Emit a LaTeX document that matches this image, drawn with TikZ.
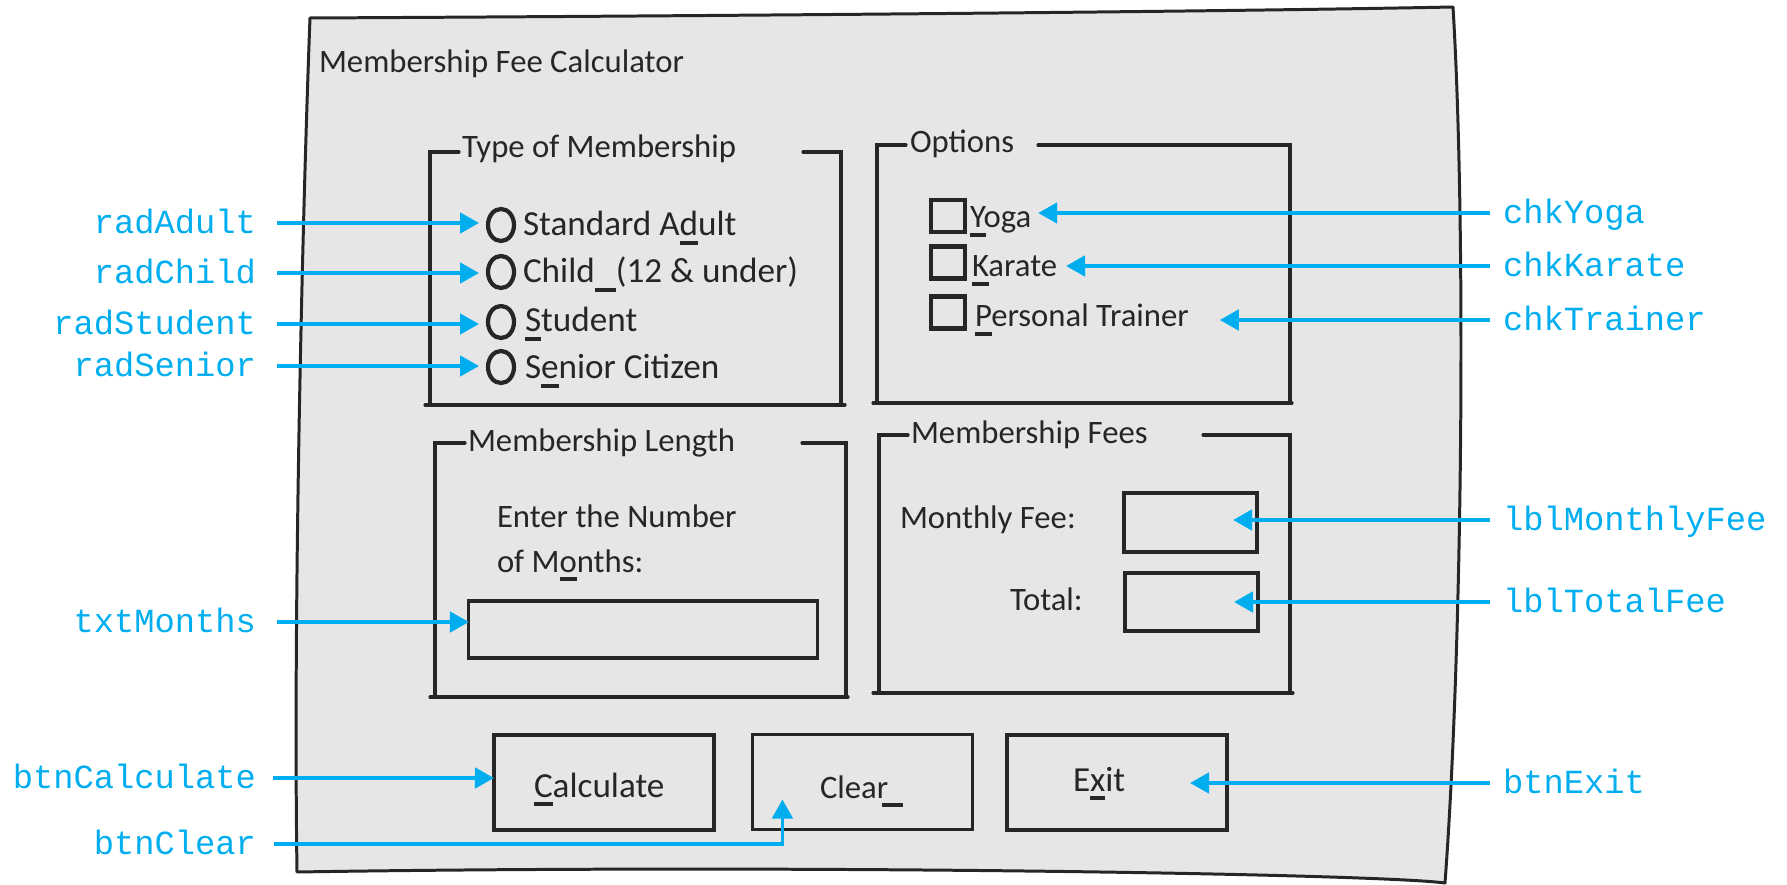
\documentclass[tikz,border=0pt]{standalone}
\usepackage{fontspec}
\setmainfont{Carlito}
\newfontfamily\labelfont{Liberation Mono}
\usetikzlibrary{arrows.meta, shapes.geometric}

\definecolor{callblue}{RGB}{0,174,239}
\definecolor{winfill}{RGB}{230,230,230}
\definecolor{ink}{RGB}{38,38,38}

% access key underline
\newcommand{\akey}[1]{\setbox0\hbox{#1}\rlap{\rule[-2.5pt]{\wd0}{1.1pt}}#1}

\begin{document}
\begin{tikzpicture}[
    x=0.01cm, y=-0.01cm,
    every node/.style={inner sep=0pt, outer sep=0pt},
    grpline/.style={draw=ink, line width=0.9pt, line cap=round},
    sketch/.style={font=\fontsize{9.3}{11}\selectfont, text=ink, anchor=base west},
    bigsketch/.style={sketch, font=\fontsize{10}{12}\selectfont},
    radio/.style={draw=ink, ellipse, line width=1.2pt, minimum width=0.26cm, minimum height=0.32cm},
    chkbox/.style={draw=ink, rectangle, line width=1.2pt, minimum width=0.34cm, minimum height=0.32cm},
    field/.style={draw=ink, rectangle, line width=0.9pt},
    button/.style={draw=ink, rectangle, line width=0.9pt, minimum width=2.2cm, minimum height=0.95cm},
    ctrl/.style={font=\labelfont\fontsize{9.6}{11}\selectfont, text=callblue, text height=6.2pt, text depth=0pt},
    callout/.style={draw=callblue, line width=1pt, -{Triangle[length=5.4pt, width=5.8pt]}}
]
\useasboundingbox (0,0) rectangle (1787,885);

% window
\filldraw[grpline, fill=winfill, line width=0.85pt, line join=round]
    (310,18) .. controls (700,16) and (1200,12) .. (1453,7)
    .. controls (1466,220) and (1463,640) .. (1445,883)
    .. controls (1380,874) and (800,864) .. (297,872)
    .. controls (293,600) and (303,200) .. cycle;
\node[sketch] (title) at (319,73) {Membership Fee Calculator};

% type of membership
\node[sketch] (grpType) at (462,158) {Type of Membership};
\draw[grpline] (459,152) -- (430,152) -- (430,405);
\draw[grpline] (803,152) -- (841,152) -- (841,405);
\draw[grpline] (425,405) -- (845,405);
\node[radio] (rAdult) at (501,225) {};
\node[radio] (rChild) at (501,272) {};
\node[radio] (rStudent) at (501,322) {};
\node[radio] (rSenior) at (501,367) {};
\node[bigsketch] (tAdult) at (523,236) {Standard A\akey{d}ult};
\node[bigsketch] (tChild) at (523,283) {Child\akey{\hspace{0.6em}}(12 \& under)};
\node[bigsketch] (tStudent) at (525,332) {\akey{S}tudent};
\node[bigsketch] (tSenior) at (525,379) {S\akey{e}nior Citizen};

% options
\node[sketch] (grpOptions) at (910,153) {Options};
\draw[grpline] (906,145) -- (877,145) -- (877,403);
\draw[grpline] (1038,145) -- (1290,145) -- (1290,403);
\draw[grpline] (873,403) -- (1292,403);
\node[chkbox] (cYoga) at (948,216) {};
\node[chkbox] (cKarate) at (948,262.5) {};
\node[chkbox] (cTrainer) at (948,312.5) {};
\node[sketch] (tYoga) at (970,228) {\akey{Y}oga};
\node[sketch] (tKarate) at (972,277) {\akey{K}arate};
\node[sketch] (tTrainer) at (975,327) {\akey{P}ersonal Trainer};

% membership length
\node[sketch] (grpLength) at (468,452) {Membership Length};
\draw[grpline] (465,443) -- (435,443) -- (435,697);
\draw[grpline] (802,443) -- (846,443) -- (846,697);
\draw[grpline] (430,697) -- (848,697);
\node[sketch] (tEnter) at (497,527) {Enter the Number};
\node[sketch] (tMonths) at (497,572) {of M\akey{o}nths:};
\node[field, minimum width=3.48cm, minimum height=0.57cm] (fMonths) at (643,629.5) {};

% membership fees
\node[sketch] (grpFees) at (911,443) {Membership Fees};
\draw[grpline] (908,435) -- (879,435) -- (879,693);
\draw[grpline] (1203,435) -- (1290,435) -- (1290,693);
\draw[grpline] (873,693) -- (1293,693);
\node[sketch] (tMonthly) at (900,528) {Monthly Fee:};
\node[sketch] (tTotal) at (1010,610) {Total:};
\node[field, minimum width=1.33cm, minimum height=0.59cm] (fMonthly) at (1190.5,522.5) {};
\node[field, minimum width=1.33cm, minimum height=0.58cm] (fTotal) at (1191.5,602) {};

% buttons
\node[button] (bCalc) at (604,782.5) {};
\node[button] (bClear) at (862.5,782) {};
\node[button] (bExit) at (1117,782.5) {};
\node[bigsketch] (tCalc) at (534,797) {\akey{C}alculate};
\node[sketch] (tClear) at (820,798) {Clear\hspace{-0.2em}\akey{\hspace{0.65em}}};
\node[bigsketch] (tExit) at (1073,791) {E\akey{x}it};

% control names
\node[ctrl, anchor=east] (radAdult) at (256,223) {radAdult};
\node[ctrl, anchor=east] (radChild) at (256,273) {radChild};
\node[ctrl, anchor=east] (radStudent) at (256,324) {radStudent};
\node[ctrl, anchor=east] (radSenior) at (256,366) {radSenior};
\node[ctrl, anchor=east] (txtMonths) at (256,622) {txtMonths};
\node[ctrl, anchor=east] (btnCalculate) at (256,778) {btnCalculate};
\node[ctrl, anchor=east] (btnClear) at (256,844) {btnClear};
\node[ctrl, anchor=west] (chkYoga) at (1503,213) {chkYoga};
\node[ctrl, anchor=west] (chkKarate) at (1503,266) {chkKarate};
\node[ctrl, anchor=west] (chkTrainer) at (1503,320) {chkTrainer};
\node[ctrl, anchor=west] (lblMonthlyFee) at (1503,520) {lblMonthlyFee};
\node[ctrl, anchor=west] (lblTotalFee) at (1503,602) {lblTotalFee};
\node[ctrl, anchor=west] (btnExit) at (1503,783) {btnExit};

% arrows
\draw[callout, shorten >=0.09cm] ([xshift=0.21cm]radAdult.east) -- (radAdult.east -| rAdult.west);
\draw[callout, shorten >=0.09cm] ([xshift=0.21cm]radChild.east) -- (radChild.east -| rChild.west);
\draw[callout, shorten >=0.09cm] ([xshift=0.21cm]radStudent.east) -- (radStudent.east -| rStudent.west);
\draw[callout, shorten >=0.09cm] ([xshift=0.21cm]radSenior.east) -- (radSenior.east -| rSenior.west);
\draw[callout] ([xshift=0.21cm]txtMonths.east) -- (txtMonths.east -| fMonths.west);
\draw[callout] ([xshift=0.17cm]btnCalculate.east) -- (btnCalculate.east -| bCalc.west);
\draw[callout] ([xshift=0.18cm]btnClear.east) -| ([xshift=0.3cm, yshift=0.3cm]bClear.south west);

\draw[callout, shorten >=0.07cm] ([xshift=-0.13cm]chkYoga.west) -- (chkYoga.west -| tYoga.east);
\draw[callout, shorten >=0.09cm] ([xshift=-0.13cm]chkKarate.west) -- (chkKarate.west -| tKarate.east);
\draw[callout, shorten >=0.31cm] ([xshift=-0.13cm]chkTrainer.west) -- (chkTrainer.west -| tTrainer.east);
\draw[callout, shorten >=-0.24cm] ([xshift=-0.13cm]lblMonthlyFee.west) -- (lblMonthlyFee.west -| fMonthly.east);
\draw[callout, shorten >=-0.24cm] ([xshift=-0.13cm]lblTotalFee.west) -- (lblTotalFee.west -| fTotal.east);
\draw[callout, shorten >=-0.37cm] ([xshift=-0.13cm]btnExit.west) -- (btnExit.west -| bExit.east);

\end{tikzpicture}
\end{document}
